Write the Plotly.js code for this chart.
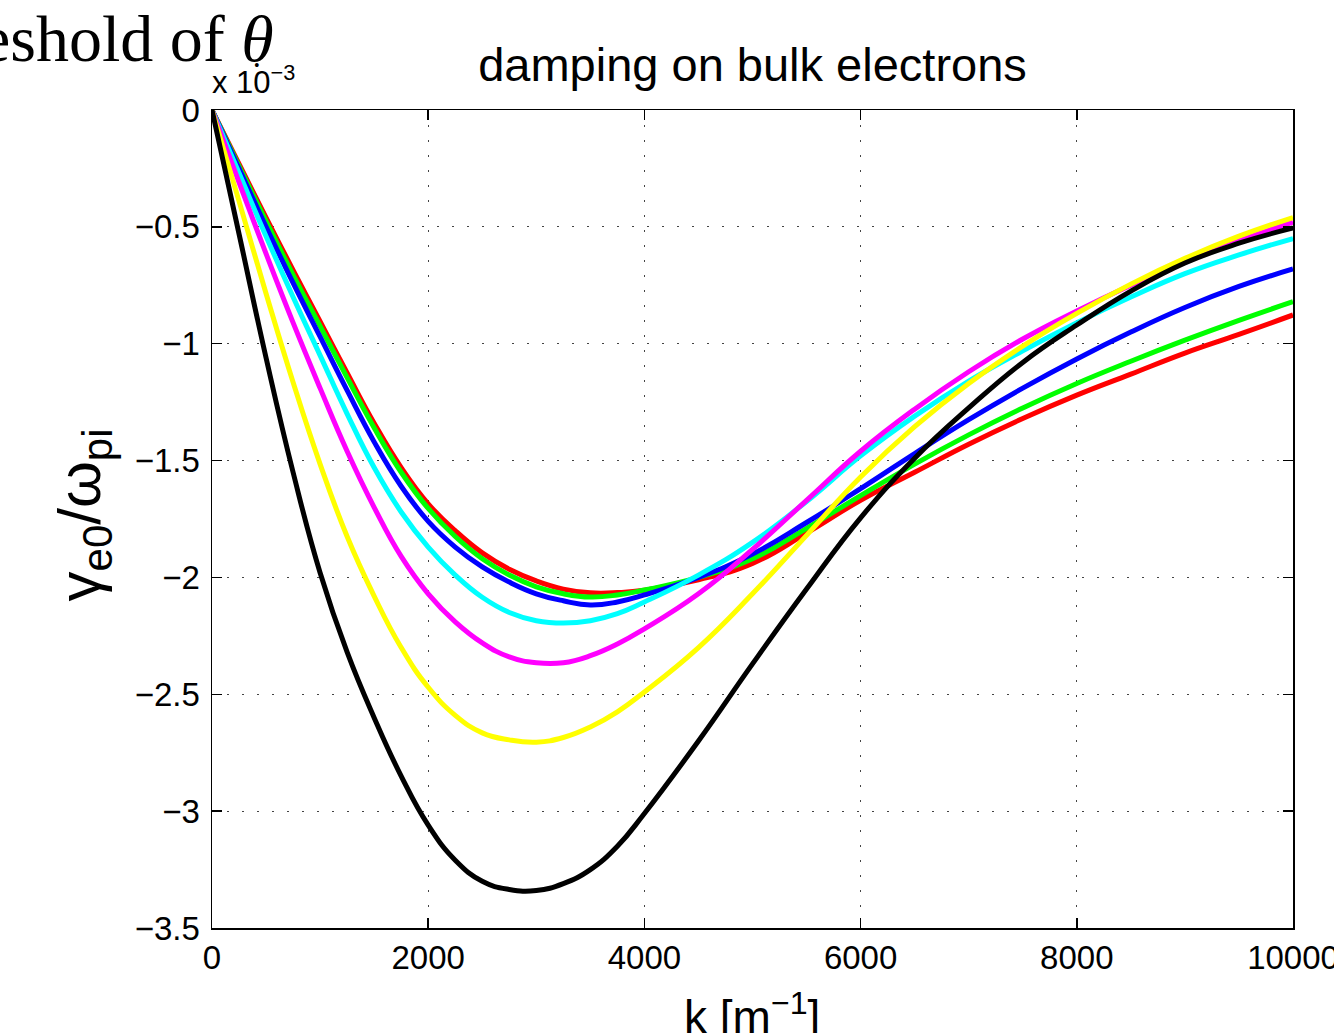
<!DOCTYPE html>
<html>
<head>
<meta charset="utf-8">
<script src="https://cdn.plot.ly/plotly-3.0.1.min.js"></script>
<style>html,body{margin:0;padding:0;background:#fff;}#chart{width:1334px;height:1033px;}</style>
</head>
<body>
<div id="chart"></div>
<script>
// k values [m^-1]
const k = [0,250,500,750,1000,1250,1500,1750,2000,2250,2500,2750,3000,3250,3500,3750,4000,4500,5000,5500,6000,6500,7000,7500,8000,8500,9000,9500,10000];
// gamma_e0/omega_pi in units of 1e-3
const redVals     = [0,-0.23,-0.46,-0.685,-0.905,-1.125,-1.34,-1.53,-1.685,-1.80,-1.895,-1.965,-2.015,-2.05,-2.066,-2.065,-2.055,-2.01,-1.94,-1.81,-1.67,-1.55,-1.43,-1.32,-1.22,-1.13,-1.04,-0.96,-0.877];
const greenVals   = [0,-0.24,-0.475,-0.705,-0.925,-1.145,-1.36,-1.55,-1.705,-1.825,-1.92,-1.99,-2.04,-2.07,-2.084,-2.075,-2.054,-2.00,-1.92,-1.79,-1.65,-1.515,-1.39,-1.275,-1.17,-1.075,-0.985,-0.90,-0.82];
const blueVals    = [0,-0.25,-0.50,-0.74,-0.97,-1.20,-1.42,-1.61,-1.76,-1.87,-1.955,-2.02,-2.07,-2.10,-2.118,-2.105,-2.075,-2.00,-1.90,-1.765,-1.62,-1.47,-1.325,-1.19,-1.065,-0.95,-0.845,-0.755,-0.68];
const cyanVals    = [0,-0.27,-0.54,-0.80,-1.05,-1.30,-1.53,-1.72,-1.87,-1.99,-2.085,-2.15,-2.185,-2.195,-2.185,-2.155,-2.105,-1.99,-1.85,-1.675,-1.48,-1.31,-1.16,-1.03,-0.91,-0.80,-0.70,-0.62,-0.55];
const magentaVals = [0,-0.31,-0.615,-0.91,-1.19,-1.46,-1.70,-1.91,-2.07,-2.19,-2.28,-2.34,-2.365,-2.365,-2.335,-2.285,-2.22,-2.07,-1.88,-1.67,-1.46,-1.28,-1.12,-0.98,-0.86,-0.75,-0.65,-0.56,-0.48];
const yellowVals  = [0,-0.39,-0.785,-1.165,-1.515,-1.825,-2.08,-2.30,-2.47,-2.59,-2.665,-2.695,-2.705,-2.685,-2.64,-2.575,-2.49,-2.30,-2.07,-1.82,-1.57,-1.355,-1.17,-1.01,-0.87,-0.745,-0.635,-0.54,-0.46];
const blackVals   = [0,-0.53,-1.06,-1.55,-1.98,-2.32,-2.60,-2.85,-3.06,-3.21,-3.30,-3.335,-3.34,-3.31,-3.25,-3.15,-3.01,-2.70,-2.37,-2.05,-1.745,-1.49,-1.275,-1.08,-0.92,-0.775,-0.655,-0.57,-0.505];

const seriesNames  = ['red','green','blue','cyan','magenta','yellow','black'];
const seriesColors = ['#ff0000','#00ff00','#0000ff','#00ffff','#ff00ff','#ffff00','#000000'];
const seriesData   = [redVals,greenVals,blueVals,cyanVals,magentaVals,yellowVals,blackVals];

const xTickVals = [0,2000,4000,6000,8000,10000];
const xTickText = ['0','2000','4000','6000','8000','10000'];
const yTickVals = [0,-0.5,-1,-1.5,-2,-2.5,-3,-3.5];
const yTickText = ['0','\u22120.5','\u22121','\u22121.5','\u22122','\u22122.5','\u22123','\u22123.5'];

const titleText = 'damping on bulk electrons';
const xTitle = 'k [m<sup>\u22121</sup>]';
const yTitle = '\u03b3<sub>e0</sub>/\u03c9<sub>pi</sub>';
const expLabel = 'x 10<sup>\u22123</sup>';
const cutText = 'eshold of <i>\u03b8</i>';

const sans = 'Liberation Sans, Arial, Helvetica, sans-serif';
const serif = 'Liberation Serif, Times New Roman, serif';

const traces = seriesData.map((v,i) => ({
  x: k, y: v, type: 'scatter', mode: 'lines', name: seriesNames[i],
  line: {color: seriesColors[i], width: 5, shape: 'spline', smoothing: 1.3},
  hoverinfo: 'skip'
}));

const axisCommon = {
  showline: true, linecolor: '#000', linewidth: 1.5, mirror: 'ticks',
  ticks: 'inside', ticklen: 10, tickwidth: 1.5, tickcolor: '#000',
  showgrid: true, gridcolor: '#444', gridwidth: 1, griddash: '2px,13px',
  zeroline: false, ticklabeloverflow: 'allow',
  tickfont: {family: sans, size: 33, color: '#000'}
};

const layout = {
  width: 1334, height: 1033,
  margin: {l: 212, r: 41, t: 110, b: 105},
  paper_bgcolor: '#fff', plot_bgcolor: '#fff',
  showlegend: false,
  title: {text: titleText, font: {family: sans, size: 47, color: '#000'},
          x: 0.5, xref: 'paper', y: 1 - 65/1033, yref: 'container', yanchor: 'middle', xanchor: 'center'},
  xaxis: Object.assign({}, axisCommon, {range: [0, 10000], tickvals: xTickVals, ticktext: xTickText}),
  yaxis: Object.assign({}, axisCommon, {range: [-3.5, 0], tickvals: yTickVals, ticktext: yTickText, ticklabelstandoff: 4}),
  annotations: [
    {text: cutText, xref: 'paper', yref: 'paper', x: 0.0592, y: 1.0403, xanchor: 'right', yanchor: 'bottom',
     showarrow: false, font: {family: serif, size: 66, color: '#000'}},
    {text: '\u2022', xref: 'paper', yref: 'paper', x: 0.0416, y: 1.055, xanchor: 'center', yanchor: 'middle',
     showarrow: false, font: {family: serif, size: 16, color: '#000'}},
    {text: expLabel, xref: 'paper', yref: 'paper', x: -0.002, y: 1.0098, xanchor: 'left', yanchor: 'bottom',
     showarrow: false, font: {family: sans, size: 31, color: '#000'}},
    {text: yTitle, xref: 'paper', yref: 'paper', x: -0.1189, y: 0.505, xanchor: 'center', yanchor: 'middle',
     textangle: -90, showarrow: false, font: {family: sans, size: 60, color: '#000'}},
    {text: xTitle, xref: 'paper', yref: 'paper', x: 0.4995, y: -0.0672, xanchor: 'center', yanchor: 'top',
     showarrow: false, font: {family: sans, size: 46, color: '#000'}}
  ]
};

Plotly.newPlot('chart', traces, layout, {staticPlot: true, displayModeBar: false});
</script>
</body>
</html>
